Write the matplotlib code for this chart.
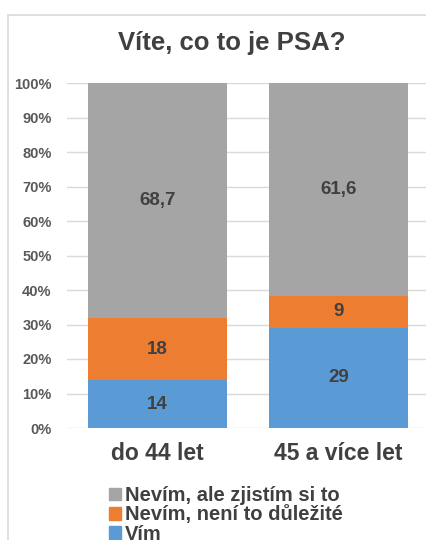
import matplotlib.pyplot as plt
import matplotlib.patches as mpatches
import numpy as np

plt.rcParams['font.family'] = ['Liberation Sans', 'DejaVu Sans']

categories = ["do 44 let", "45 a více let"]
vim = [14, 29]
nedulezite = [18, 9]
zjistim = [68.7, 61.6]
labels = ["Vím", "Nevím, není to důležité", "Nevím, ale zjistím si to"]
colors = ["#5B9BD5", "#ED7D31", "#A5A5A5"]
text_col = "#404040"

series = np.array([vim, nedulezite, zjistim], float)
totals = series.sum(axis=0)
pct = series / totals * 100

fig = plt.figure(figsize=(4.26, 5.40), dpi=100)
# chart frame
fig.patches.append(mpatches.Rectangle((8/426, -0.1), 1.2, 1.1 - 15/540,
                                      transform=fig.transFigure, fill=False,
                                      edgecolor="#D9D9D9", lw=1.2))
ax = fig.add_axes([67/426, 112/540, 362/426, 345/540])

x = np.arange(len(categories))
bottom = np.zeros(len(categories))
for i in range(3):
    bars = ax.bar(x, pct[i], 0.773, bottom=bottom, color=colors[i], zorder=2)
    for j, b in enumerate(bars):
        val = series[i][j]
        txt = ("%g" % val).replace(".", ",")
        ax.text(b.get_x() + b.get_width()/2, bottom[j] + pct[i][j]/2, txt,
                ha="center", va="center", fontsize=13.5, fontweight="bold",
                color=text_col)
    bottom += pct[i]

ax.set_xlim(-0.5, 1.5)
ax.set_ylim(0, 100)
ax.set_yticks(np.arange(0, 101, 10))
ax.set_yticklabels(["%d%%" % v for v in range(0, 101, 10)], fontsize=10.5,
                   fontweight="bold", color="#595959")
ax.yaxis.grid(True, color="#D9D9D9", lw=1, zorder=0)
ax.tick_params(axis="y", length=0, pad=11)
ax.set_xticks(x)
ax.set_xticklabels(categories, fontsize=16.5, fontweight="bold", color=text_col)
ax.tick_params(axis="x", length=0, pad=10)
for s in ax.spines.values():
    s.set_visible(False)

fig.text(232/426, 1 - 43/540, "Víte, co to je PSA?", ha="center", va="center",
         fontsize=18.5, fontweight="bold", color=text_col)

handles = [mpatches.Patch(color=colors[i]) for i in (2, 1, 0)]
fig.legend(handles, [labels[i] for i in (2, 1, 0)], loc="upper left",
           bbox_to_anchor=(99/426, 1 - 476/540), frameon=False,
           prop={"size": 14.5, "weight": "bold"}, labelcolor=text_col,
           handlelength=0.6, handleheight=0.6, handletextpad=0.2,
           labelspacing=0.02, borderpad=0)

fig.savefig("out.png", dpi=100)
